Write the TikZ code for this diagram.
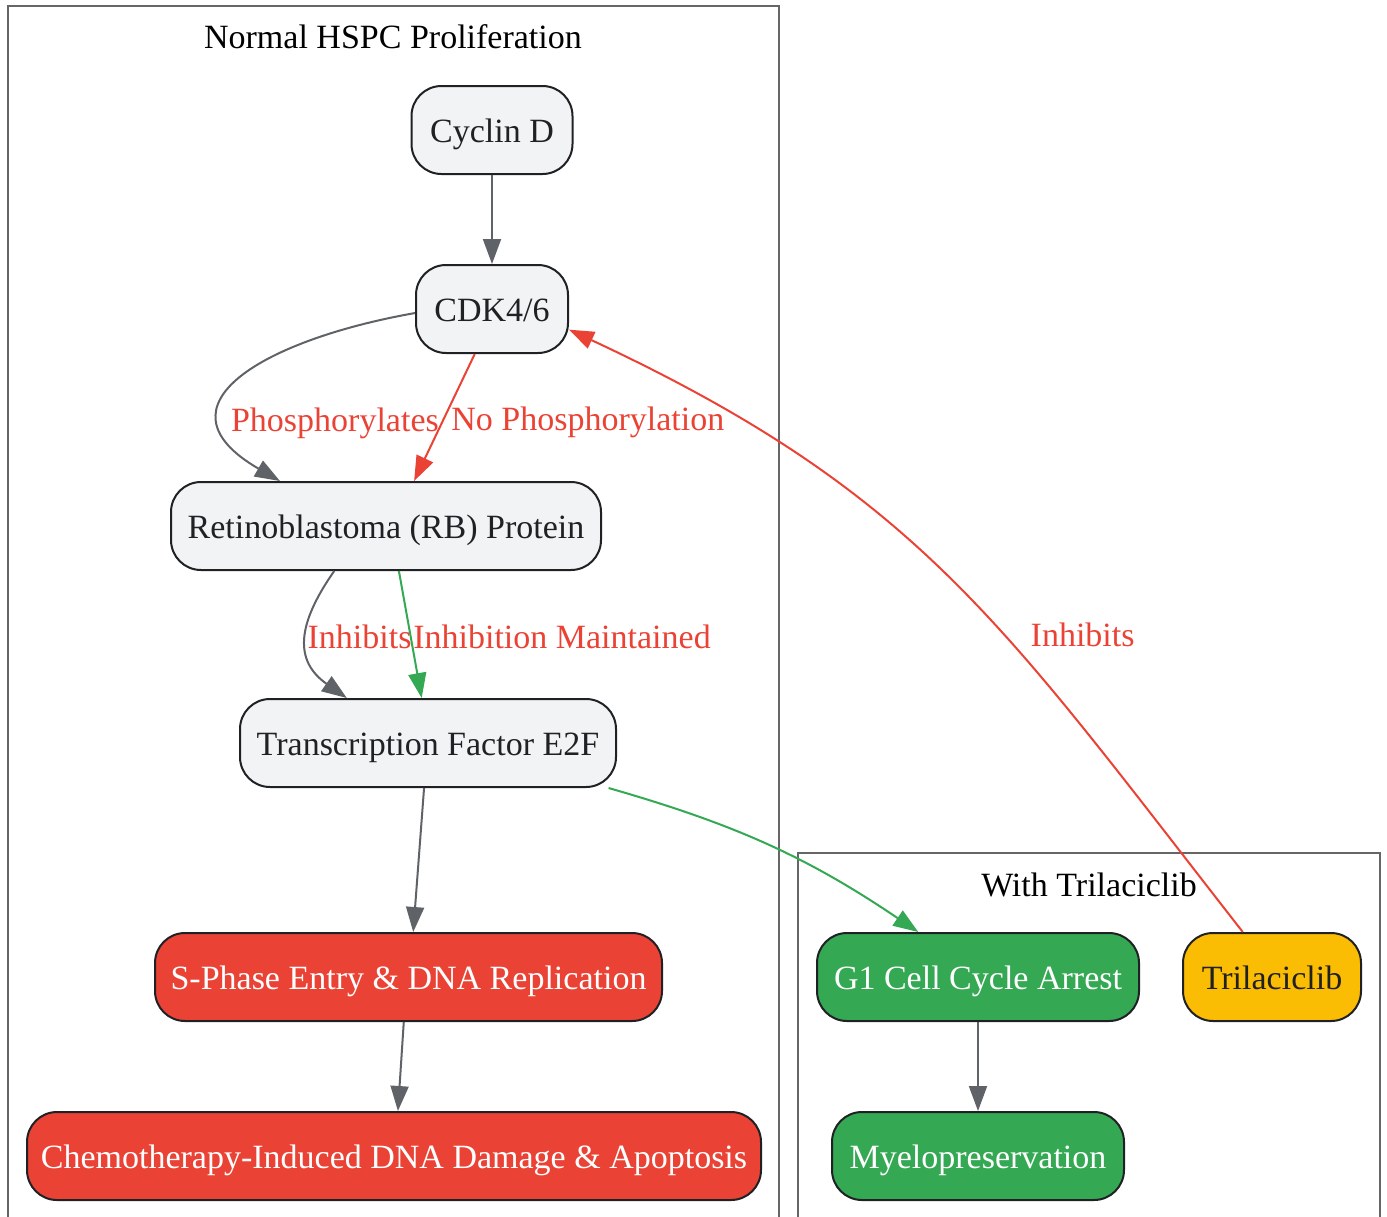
\documentclass[tikz,border=0pt]{standalone}
\usepackage{fontspec}
\setmainfont{Liberation Serif}
\usetikzlibrary{arrows.meta, positioning}
\definecolor{ink}{HTML}{202124}
\definecolor{paper}{HTML}{F1F3F4}
\definecolor{gred}{HTML}{EA4335}
\definecolor{ggreen}{HTML}{34A853}
\definecolor{gyellow}{HTML}{FBBC04}
\definecolor{ggray}{HTML}{5F6368}
\definecolor{frame}{HTML}{666666}
\tikzset{
>={Triangle[length=12.5pt, width=9pt]}, % filled heads, as in the graph
every node/.style={font=\fontsize{17}{20}\selectfont}, % one text size everywhere
box/.style={rectangle, rounded corners=15pt, draw=ink, line width=1pt, minimum height=44pt, text=ink, text height=13.5pt, text depth=1.5pt}, % rounded step box
proc/.style={box, fill=paper}, % plain step
bad/.style={box, fill=gred, text=white}, % harmful outcome
good/.style={box, fill=ggreen, text=white}, % protective outcome
drug/.style={box, fill=gyellow}, % the drug itself
grayedge/.style={->, draw=ggray, line width=1pt},
rededge/.style={->, draw=gred, line width=1pt},
greenedge/.style={->, draw=ggreen, line width=1pt},
lbl/.style={text=gred, inner sep=0pt}, % edge labels
cluster/.style={draw=frame, line width=1pt}, % frame round a group
}
\begin{document}
\begin{tikzpicture}[x=0.5pt, y=-0.5pt]
\useasboundingbox (0,0) rectangle (1387,1216);
% groups
\draw[cluster] (8,6) rectangle (779,1240);
\node (tnormal) at (393,37) {Normal HSPC Proliferation};
\draw[cluster] (798,853) rectangle (1380,1240);
\node (twith) at (1089,885) {With Trilaciclib};
% steps
\node[proc, minimum width=80.5pt] (cycd) at (492,130) {Cyclin D};
\node[proc, minimum width=76pt] (cdk) at (492,309) {CDK4/6};
\node[proc, minimum width=215pt] (rb) at (386,526) {Retinoblastoma (RB) Protein};
\node[proc, minimum width=188pt] (e2f) at (428,743) {Transcription Factor E2F};
\node[bad, minimum width=253.5pt] (sphase) at (408.5,977) {S-Phase Entry \& DNA Replication};
\node[bad, minimum width=367pt] (chemo) at (394,1156) {Chemotherapy-Induced DNA Damage \& Apoptosis};
\node[good, minimum width=161pt] (arrest) at (978,977) {G1 Cell Cycle Arrest};
\node[good, minimum width=146pt] (myelo) at (978,1156) {Myelopreservation};
\node[drug, minimum width=89pt] (trila) at (1272,977) {Trilaciclib};
% links
\draw
    (cycd) edge[grayedge] (cdk)
    (cdk.183) edge[grayedge, out=190, in=150, looseness=1.8] node[lbl, pos=0.7, anchor=west, xshift=3.5pt, yshift=-3.5pt]{Phosphorylates} (rb.157)
    (cdk.249) edge[rededge] node[lbl, pos=0.5, anchor=west, xshift=3pt, yshift=-2.5pt]{No Phosphorylation} (rb.58)
    (rb.221) edge[grayedge, out=235, in=145, looseness=1.3] node[lbl, pos=0.5, anchor=west, yshift=2pt]{Inhibits} (e2f.151)
    (rb.-74) edge[greenedge] node[lbl, pos=0.5, anchor=west, xshift=1pt, yshift=-1pt]{Inhibition Maintained} (e2f.98)
    (e2f.-95) edge[grayedge] (sphase.84)
    (sphase.-96) edge[grayedge] (chemo.85)
    (e2f.-14) edge[greenedge, out=-16, in=146] (arrest.143)
    (arrest) edge[grayedge] (myelo)
    (trila.123) edge[rededge, out=128, in=-25, looseness=1.1] node[lbl, pos=0.4, anchor=west, xshift=13pt]{Inhibits} (cdk.-15)
    ;
\end{tikzpicture}
\end{document}
